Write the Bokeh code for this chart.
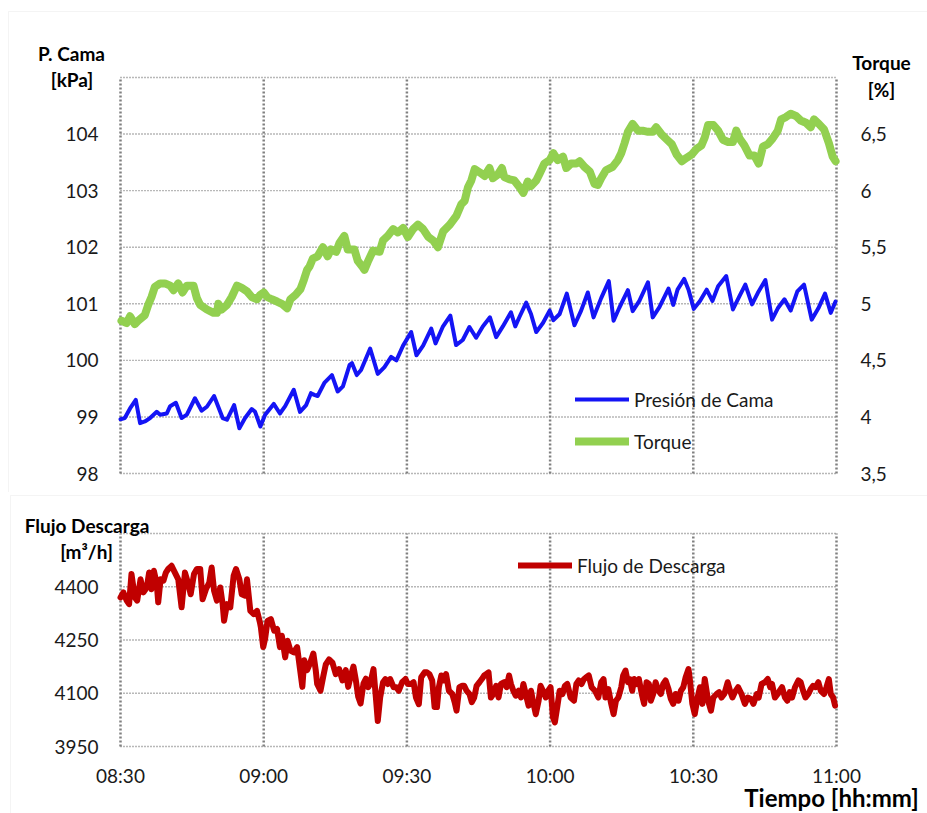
from bokeh.plotting import figure
from bokeh.models import (Range1d, LinearAxis, FixedTicker, Legend, LegendItem, Label,
                          BoxAnnotation)
from bokeh.layouts import column
from bokeh.embed import file_html
from bokeh.resources import INLINE

# ---- data (minutes after 08:30) ----
TIME_TICKS = [0, 30, 60, 90, 120, 150]
TIME_LABELS = ["08:30", "09:00", "09:30", "10:00", "10:30", "11:00"]

PRESS_TICKS = [98, 99, 100, 101, 102, 103, 104]
TORQUE_TICKS = [3.5, 4, 4.5, 5, 5.5, 6, 6.5]
TORQUE_LABELS = ["3,5", "4", "4,5", "5", "5,5", "6", "6,5"]
FLOW_TICKS = [3950, 4100, 4250, 4400]

press_t = [0.0, 0.9, 2.0, 3.2, 4.1, 5.1, 6.2, 7.6, 8.3, 9.7, 10.4, 11.6, 12.8, 13.9, 15.6, 17.0,
           18.1, 19.6, 21.4, 22.3, 23.8, 24.9, 26.1, 27.5, 28.2, 29.3, 30.3, 32.1, 33.4, 34.5,
           36.3, 37.6, 38.9, 39.9, 40.6, 41.3, 42.7, 44.3, 45.5, 46.6, 48.0, 48.5, 49.5, 50.4,
           52.3, 53.9, 55.3, 56.7, 57.8, 59.2, 60.9, 62.0, 63.4, 65.1, 66.0, 67.5, 69.1, 70.3,
           71.7, 73.1, 74.5, 75.9, 77.4, 78.7, 80.1, 81.8, 82.7, 83.6, 85.0, 86.0, 87.1, 88.5,
           89.9, 90.7, 92.0, 93.5, 95.1, 96.5, 97.9, 99.1, 100.7, 102.3, 103.3, 104.5, 106.3,
           107.3, 108.7, 110.5, 111.5, 112.9, 114.8, 115.8, 116.7, 118.1, 119.0, 120.1, 121.4,
           122.8, 124.0, 125.2, 126.9, 128.3, 129.7, 130.9, 132.3, 133.5, 135.1, 136.5, 137.7,
           139.1, 140.4, 141.8, 143.2, 144.8, 146.2, 147.6, 148.8, 149.8]
press_v = [98.96, 98.98, 99.15, 99.30, 98.89, 98.92, 98.98, 99.09, 99.04, 99.06, 99.19, 99.25,
           98.98, 99.04, 99.33, 99.11, 99.18, 99.37, 98.98, 98.95, 99.21, 98.80, 98.98, 99.14,
           99.09, 98.83, 99.04, 99.23, 99.06, 99.19, 99.48, 99.09, 99.21, 99.42, 99.39, 99.37,
           99.60, 99.74, 99.45, 99.54, 99.92, 99.95, 99.74, 99.83, 100.21, 99.76, 99.88, 100.06,
           100.00, 100.26, 100.50, 100.09, 100.26, 100.56, 100.30, 100.59, 100.79, 100.27, 100.36,
           100.59, 100.40, 100.60, 100.76, 100.41, 100.60, 100.85, 100.60, 100.77, 101.02, 100.82,
           100.50, 100.66, 100.88, 100.71, 100.82, 101.18, 100.62, 100.88, 101.20, 100.76, 101.10,
           101.40, 100.70, 100.93, 101.24, 100.87, 101.05, 101.38, 100.76, 100.94, 101.27, 100.98,
           101.25, 101.44, 101.25, 100.91, 101.05, 101.25, 101.05, 101.31, 101.49, 100.90, 101.14,
           101.34, 100.99, 101.19, 101.42, 100.72, 100.92, 101.08, 100.88, 101.22, 101.34, 100.72,
           100.92, 101.18, 100.84, 101.04]

torque_t = [0.2, 1.3, 2.0, 3.0, 3.7, 5.1, 5.8, 6.5, 7.2, 8.3, 9.3, 10.4, 11.1, 12.1, 13.0, 13.9,
            15.3, 16.0, 16.7, 18.1, 19.5, 20.2, 20.5, 21.2, 22.3, 23.3, 24.4, 25.4, 26.5, 27.5,
            28.6, 29.3, 30.0, 30.7, 31.7, 32.8, 33.8, 34.9, 35.6, 36.7, 37.7, 38.4, 39.1, 39.6,
            40.3, 41.3, 42.4, 43.4, 44.1, 45.2, 45.9, 46.9, 47.6, 49.0, 49.7, 50.8, 51.1, 51.8,
            52.9, 54.3, 55.0, 56.0, 57.1, 58.1, 59.2, 60.2, 61.3, 62.3, 63.4, 64.5, 65.5, 66.5,
            67.6, 69.0, 70.4, 71.4, 72.1, 72.8, 73.5, 74.2, 75.3, 76.3, 77.3, 78.0, 79.0, 79.9,
            80.4, 81.5, 82.5, 83.6, 84.4, 85.3, 86.0, 87.1, 87.8, 88.8, 89.9, 90.7, 91.6, 92.7,
            93.4, 94.4, 95.5, 96.2, 97.2, 98.3, 99.3, 100.0, 100.7, 101.7, 103.1, 104.2, 104.9,
            105.6, 106.3, 107.3, 108.4, 109.4, 110.5, 111.5, 112.2, 113.3, 114.5, 115.5, 116.5,
            117.6, 118.6, 119.7, 120.7, 121.7, 122.4, 123.1, 124.2, 125.2, 126.2, 127.3, 128.3,
            129.0, 129.7, 130.7, 131.8, 132.8, 133.7, 134.6, 135.6, 136.6, 137.7, 138.4, 139.4,
            140.4, 141.5, 142.5, 143.6, 144.6, 145.3, 146.3, 147.4, 148.4, 149.2, 149.8]
torque_v = [4.85, 4.83, 4.89, 4.82, 4.85, 4.90, 4.99, 5.06, 5.15, 5.18, 5.18, 5.16, 5.12, 5.18,
            5.10, 5.16, 5.16, 5.05, 4.99, 4.95, 4.92, 4.92, 5.00, 4.95, 4.99, 5.06, 5.16, 5.14,
            5.11, 5.06, 5.04, 5.08, 5.10, 5.06, 5.04, 5.02, 5.00, 4.96, 5.04, 5.08, 5.13, 5.21,
            5.30, 5.33, 5.40, 5.42, 5.50, 5.42, 5.48, 5.46, 5.54, 5.60, 5.48, 5.48, 5.38, 5.32,
            5.30, 5.37, 5.47, 5.46, 5.56, 5.60, 5.66, 5.63, 5.67, 5.59, 5.66, 5.70, 5.66, 5.59,
            5.56, 5.50, 5.64, 5.70, 5.78, 5.88, 5.91, 6.03, 6.09, 6.19, 6.16, 6.13, 6.20, 6.11,
            6.14, 6.20, 6.12, 6.10, 6.09, 6.03, 5.98, 6.08, 6.04, 6.09, 6.15, 6.24, 6.27, 6.33,
            6.27, 6.30, 6.20, 6.24, 6.24, 6.26, 6.21, 6.17, 6.06, 6.05, 6.11, 6.18, 6.21, 6.27,
            6.33, 6.42, 6.52, 6.59, 6.53, 6.53, 6.52, 6.52, 6.56, 6.50, 6.45, 6.41, 6.32, 6.26,
            6.29, 6.32, 6.37, 6.40, 6.47, 6.58, 6.58, 6.53, 6.45, 6.43, 6.43, 6.53, 6.46, 6.40,
            6.31, 6.31, 6.24, 6.39, 6.41, 6.46, 6.53, 6.63, 6.65, 6.68, 6.66, 6.62, 6.60, 6.56,
            6.63, 6.59, 6.54, 6.42, 6.30, 6.26]

flow_t = [0.0, 0.6, 1.3, 1.8, 2.3, 3.0, 3.5, 4.2, 4.8, 5.5, 6.0, 6.5, 7.0, 7.6, 7.9, 8.4, 9.0,
          9.5, 10.0, 10.7, 11.4, 12.1, 12.8, 13.5, 14.2, 14.7, 15.4, 16.0, 16.7, 17.2, 17.9,
          18.6, 19.1, 19.6, 20.2, 20.9, 21.4, 21.7, 22.3, 23.0, 23.7, 24.2, 24.9, 25.4, 26.1,
          26.5, 27.2, 27.9, 28.6, 29.2, 29.4, 29.9, 30.3, 30.8, 31.5, 32.2, 32.8, 33.4, 33.8,
          34.5, 35.0, 35.6, 36.3, 37.0, 37.6, 38.1, 38.5, 39.1, 39.7, 40.4, 40.9, 41.2, 41.9,
          42.5, 43.0, 43.7, 44.4, 45.1, 45.8, 46.5, 47.2, 47.7, 48.2, 48.8, 49.3, 49.8, 50.3,
          50.9, 51.4, 51.9, 52.3, 53.0, 53.5, 53.9, 54.4, 55.0, 55.5, 56.0, 56.5, 57.2, 57.8,
          58.3, 59.0, 59.7, 60.2, 60.9, 61.4, 61.9, 62.5, 63.0, 63.7, 64.2, 64.7, 65.3, 65.8,
          66.3, 66.7, 67.2, 67.7, 68.2, 68.8, 69.5, 70.0, 70.4, 71.0, 71.6, 72.0, 72.5, 73.1,
          73.6, 74.1, 74.6, 75.2, 75.7, 76.2, 76.6, 77.1, 77.6, 78.1, 78.7, 79.2, 79.7, 80.4,
          80.9, 81.4, 81.8, 82.3, 82.8, 83.4, 83.9, 84.4, 84.9, 85.5, 86.0, 86.4, 87.0, 87.6,
          88.0, 88.5, 89.1, 89.6, 90.1, 90.6, 91.0, 91.5, 92.0, 92.6, 93.1, 93.6, 94.3, 95.0,
          95.5, 96.0, 96.6, 97.1, 97.6, 98.1, 98.7, 99.4, 100.1, 100.7, 101.2, 101.6, 102.2,
          102.8, 103.3, 103.8, 104.3, 104.9, 105.3, 105.8, 106.3, 106.7, 107.2, 107.6, 108.1,
          108.6, 109.2, 109.7, 110.2, 110.7, 111.1, 111.6, 112.1, 112.7, 113.2, 113.7, 114.2,
          114.8, 115.3, 115.8, 116.3, 116.9, 117.4, 117.9, 118.4, 119.0, 119.3, 119.8, 120.3,
          120.9, 121.4, 121.9, 122.4, 123.1, 123.7, 124.2, 124.9, 125.4, 125.9, 126.5, 127.2,
          127.7, 128.2, 128.7, 129.4, 130.1, 130.8, 131.4, 132.1, 132.6, 133.3, 133.7, 134.3,
          135.0, 135.6, 136.1, 136.5, 137.1, 137.7, 138.1, 138.6, 139.2, 139.7, 140.2, 140.7,
          141.3, 142.0, 142.5, 143.0, 143.5, 144.1, 144.6, 145.1, 145.6, 146.2, 146.7, 147.4,
          147.9, 148.4, 148.8, 149.3, 149.7]
flow_v = [4370, 4384, 4361, 4351, 4436, 4370, 4361, 4421, 4384, 4398, 4440, 4393, 4445, 4408,
          4356, 4421, 4417, 4440, 4450, 4459, 4440, 4421, 4342, 4440, 4408, 4379, 4436, 4450,
          4450, 4365, 4393, 4412, 4454, 4389, 4361, 4398, 4351, 4304, 4351, 4342, 4431, 4450,
          4421, 4379, 4375, 4421, 4332, 4323, 4332, 4300, 4286, 4230, 4254, 4304, 4309, 4276,
          4281, 4230, 4262, 4201, 4248, 4220, 4215, 4230, 4169, 4118, 4193, 4165, 4184, 4212,
          4165, 4126, 4107, 4149, 4181, 4195, 4186, 4154, 4168, 4136, 4165, 4118, 4146, 4175,
          4137, 4090, 4071, 4127, 4141, 4117, 4126, 4168, 4088, 4022, 4088, 4131, 4140, 4126,
          4140, 4117, 4117, 4107, 4131, 4140, 4126, 4126, 4131, 4088, 4069, 4145, 4159, 4159,
          4154, 4136, 4061, 4061, 4117, 4150, 4136, 4154, 4107, 4098, 4075, 4051, 4117, 4121,
          4121, 4107, 4098, 4075, 4088, 4121, 4131, 4140, 4150, 4154, 4159, 4088, 4098, 4121,
          4088, 4126, 4131, 4117, 4150, 4126, 4107, 4093, 4107, 4088, 4126, 4098, 4065, 4107,
          4079, 4041, 4079, 4121, 4107, 4088, 4107, 4117, 4032, 4018, 4061, 4107, 4098, 4121,
          4126, 4088, 4079, 4126, 4136, 4126, 4140, 4145, 4150, 4117, 4107, 4088, 4131, 4140,
          4088, 4112, 4070, 4041, 4079, 4088, 4117, 4150, 4164, 4131, 4140, 4107, 4140, 4126,
          4140, 4098, 4070, 4131, 4126, 4079, 4098, 4131, 4107, 4098, 4126, 4136, 4112, 4084,
          4070, 4098, 4079, 4107, 4117, 4145, 4168, 4136, 4070, 4041, 4088, 4117, 4070, 4140,
          4079, 4051, 4088, 4098, 4103, 4088, 4098, 4131, 4107, 4088, 4103, 4117, 4098, 4070,
          4088, 4084, 4070, 4098, 4088, 4126, 4131, 4140, 4117, 4126, 4088, 4098, 4107, 4117,
          4088, 4079, 4103, 4088, 4117, 4136, 4131, 4107, 4088, 4098, 4112, 4121, 4117, 4131,
          4107, 4098, 4117, 4140, 4098, 4088, 4065]

BLUE = "#1414F5"
GREEN = "#92D050"
RED = "#C00000"
GRID = "#808080"
PANEL = "#d9d9d9"
FONT = "Lato"
TXT = "#1a1a1a"
FS = "19px"

# page geometry: the frame covers each whole canvas, the plot area sits inside it
W = 927
PX_L, PX_R = 120, 836              # plot area left/right
H1, P1_TOP, P1_BOT = 492, 77, 473  # upper panel canvas height, plot area top/bottom
H2, P2_TOP, P2_BOT = 321, 533, 746  # lower panel (page y of plot area)
Y2_OFF = H1


def x_of(px):
    return (px - PX_L) * 150 / (PX_R - PX_L)


def y1_of(py):
    return 98 + (P1_BOT - py) * 7 / (P1_BOT - P1_TOP)


def y2_of(py):
    return 3950 + (P2_BOT - py) * 600 / (P2_BOT - P2_TOP)


def style_axis(ax, standoff):
    ax.axis_line_color = None
    ax.major_tick_line_color = None
    ax.minor_tick_line_color = None
    ax.major_tick_in = 0
    ax.major_tick_out = 0
    ax.minor_tick_in = 0
    ax.minor_tick_out = 0
    ax.major_label_standoff = standoff
    ax.major_label_text_font = FONT
    ax.major_label_text_font_size = FS
    ax.major_label_text_color = TXT


def grid_lines(p, y_lo, y_hi, yticks):
    # dotted vertical (time) and horizontal (value) guide lines over the plot area
    m = len(yticks)
    p.segment(x0=[0] * m, y0=yticks, x1=[150] * m, y1=yticks,
              line_color="#707070", line_width=1.4, line_dash="1 2")
    n = len(TIME_TICKS)
    p.segment(x0=TIME_TICKS, y0=[y_lo] * n, x1=TIME_TICKS, y1=[y_hi] * n,
              line_color=GRID, line_width=2.5, line_dash="2 2")


def title(p, text, x, y, size=FS):
    p.add_layout(Label(x=x, y=y, text=text, text_align="center", text_baseline="middle",
                       text_font=FONT, text_font_style="bold", text_font_size=size,
                       text_color="#000000"))


def make_fig(height, y_range):
    p = figure(width=W, height=height, x_range=Range1d(x_of(0), x_of(W)), y_range=y_range,
               output_backend="svg", toolbar_location=None,
               x_axis_location=None, y_axis_location=None,
               min_border=0, min_border_left=0, min_border_right=0,
               min_border_top=0, min_border_bottom=0)
    p.outline_line_color = None
    p.grid.visible = False
    return p


# ---- upper panel: bed pressure and torque ----
p1 = make_fig(H1, Range1d(y1_of(H1), y1_of(0)))
p1.extra_y_ranges = {"torque": Range1d(3.5 + (y1_of(H1) - 98) / 2, 3.5 + (y1_of(0) - 98) / 2)}
p1.add_layout(BoxAnnotation(left=x_of(8), right=x_of(W + 10), top=y1_of(11), bottom=y1_of(H1 + 20),
                            fill_alpha=0, line_color=PANEL, line_width=1))
grid_lines(p1, 98, 105, PRESS_TICKS + [105])

ax_l = LinearAxis(fixed_location=0, ticker=FixedTicker(ticks=PRESS_TICKS))
style_axis(ax_l, 22)
p1.add_layout(ax_l, "left")
ax_r = LinearAxis(y_range_name="torque", fixed_location=150,
                  ticker=FixedTicker(ticks=TORQUE_TICKS),
                  major_label_overrides=dict(zip(TORQUE_TICKS, TORQUE_LABELS)))
style_axis(ax_r, 24)
p1.add_layout(ax_r, "right")

r_tq = p1.line(torque_t, torque_v, y_range_name="torque", line_color=GREEN, line_width=8,
               line_join="round", line_cap="round")
r_pr = p1.line(press_t, press_v, line_color=BLUE, line_width=4,
               line_join="round", line_cap="round")

p1.add_layout(Legend(items=[LegendItem(label="Presión de Cama", renderers=[r_pr]),
                            LegendItem(label="Torque", renderers=[r_tq])],
                     location=(575, H1 - 453), orientation="vertical",
                     background_fill_alpha=0, border_line_alpha=0, padding=0, margin=0,
                     glyph_width=54, glyph_height=24, label_height=24, spacing=18,
                     label_standoff=5, label_text_font=FONT, label_text_font_size=FS,
                     label_text_color=TXT))

for txt, px, py in [("P. Cama", 71, 53), ("[kPa]", 71.5, 79), ("Torque", 881, 62), ("[%]", 881, 89)]:
    title(p1, txt, x_of(px), y1_of(py))

# ---- lower panel: discharge flow ----
p2 = make_fig(H2, Range1d(y2_of(Y2_OFF + H2), y2_of(Y2_OFF)))
p2.add_layout(BoxAnnotation(left=x_of(10), right=x_of(W + 10), top=y2_of(495), bottom=y2_of(830),
                            fill_alpha=0, line_color=PANEL, line_width=1))
grid_lines(p2, 3950, 4550, FLOW_TICKS + [4550])

ax_b = LinearAxis(fixed_location=3950, ticker=FixedTicker(ticks=TIME_TICKS),
                  major_label_overrides=dict(zip(TIME_TICKS, TIME_LABELS)))
style_axis(ax_b, 17)
p2.add_layout(ax_b, "below")
ax_f = LinearAxis(fixed_location=0, ticker=FixedTicker(ticks=FLOW_TICKS))
style_axis(ax_f, 22)
p2.add_layout(ax_f, "left")

r_fl = p2.line(flow_t, flow_v, line_color=RED, line_width=6, line_join="round", line_cap="round")
p2.add_layout(Legend(items=[LegendItem(label="Flujo de Descarga", renderers=[r_fl])],
                     location=(518, H2 - (577 - Y2_OFF)), background_fill_alpha=0,
                     border_line_alpha=0, padding=0, margin=0, glyph_width=54, glyph_height=24,
                     label_height=24, label_standoff=5, label_text_font=FONT,
                     label_text_font_size=FS, label_text_color=TXT))

for txt, px, py, size in [("Flujo Descarga", 86.5, 525, FS), ("[m³/h]", 86, 550.5, FS),
                          ("Tiempo [hh:mm]", 831, 797, "24px")]:
    title(p2, txt, x_of(px), y2_of(py), size)

layout = column(p1, p2, spacing=0)
open("out.html", "w").write(file_html(layout, INLINE))
